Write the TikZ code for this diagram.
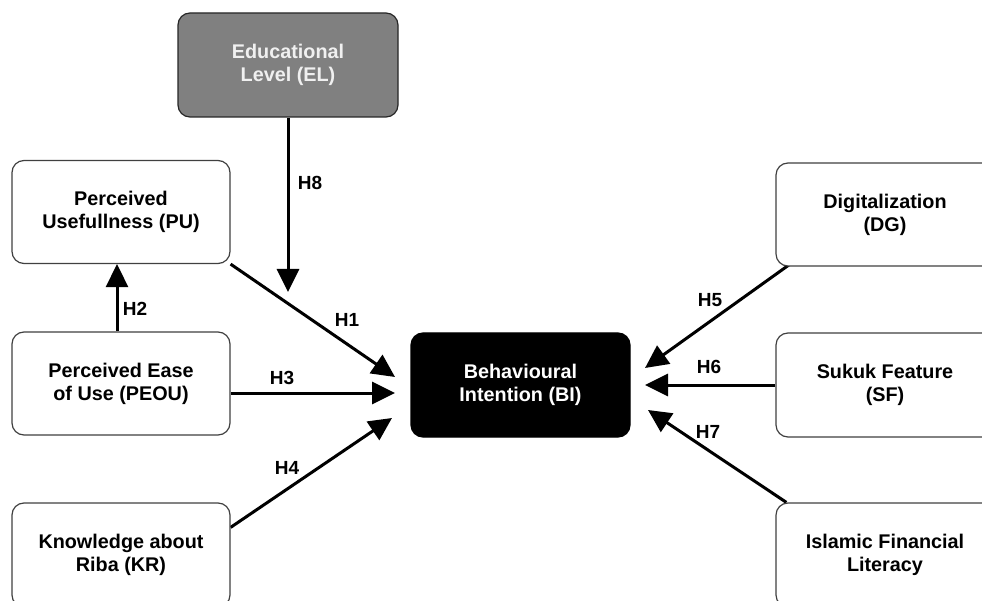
\documentclass[tikz,border=0pt]{standalone}
\usepackage{fontspec}
\setmainfont{Liberation Sans}
\usetikzlibrary{arrows.meta,calc,backgrounds}
\begin{document}
\begin{tikzpicture}[x=1pt,y=-1pt,
  box/.style={draw=black!75, line width=1.2pt, rounded corners=12pt, fill=white,
    minimum width=218pt, minimum height=103pt, align=center, inner sep=0pt,
    font=\fontsize{19.8}{23}\selectfont\bfseries},
  darkbox/.style={box, fill=black, draw=black, text=white},
  graybox/.style={box, fill=black!50, draw=black!85, text=white!94!black},
  conn/.style={line width=3pt, -{Triangle[length=23pt,width=22pt]}},
  lab/.style={font=\fontsize{19}{22}\selectfont\bfseries, inner sep=0pt}]
\useasboundingbox (0,0) rectangle (982,601);
\clip (0,0) rectangle (982,601);

% nodes
\node[graybox, minimum width=220pt, minimum height=104pt] (EL) at (288,65) {Educational\\Level (EL)};
\node[box] (PU) at (121,212) {Perceived\\Usefullness (PU)};
\node[box] (PEOU) at (121,383.5) {Perceived Ease\\of Use (PEOU)};
\node[box, minimum height=104pt] (KR) at (121,555) {Knowledge about\\Riba (KR)};
\node[darkbox, minimum width=219pt, minimum height=104pt] (BI) at (520.5,385) {Behavioural\\Intention (BI)};
\node[box] (DG) at (885,214.5) {Digitalization\\(DG)};
\node[box, minimum height=104pt] (SF) at (885,385) {Sukuk Feature\\(SF)};
\node[box, minimum height=104pt] (IFL) at (885,555) {Islamic Financial\\Literacy};

% arrow tips (free ends)
\coordinate (t1) at (395,377);
\coordinate (t3) at (395,393);
\coordinate (t4) at (392,418);
\coordinate (t5) at (645,368);
\coordinate (t6) at (645,385);
\coordinate (t7) at (648,410);
\coordinate (t8) at (288,292);

\begin{pgfonlayer}{background}
\draw[conn] (PU.south east) -- (t1);
\draw[conn] (PEOU.east |- t3) -- (t3);
\draw[conn] ($(KR.north east)+(0,25)$) -- (t4);
\draw[conn] ($(DG.south west)+(14,-2)$) -- (t5);
\draw[conn] (SF.west |- t6) -- (t6);
\draw[conn] ($(IFL.north west)+(11,0)$) -- (t7);
\draw[conn] (EL.south) -- (t8);
\draw[conn] ([xshift=-4pt]PEOU.north) -- ([xshift=-4pt]PU.south);
\end{pgfonlayer}

% labels
\node[lab] (lH1) at (347,320) {H1};
\node[lab] (lH2) at (135,309) {H2};
\node[lab] (lH3) at (282,378) {H3};
\node[lab] (lH4) at (287,468) {H4};
\node[lab] (lH5) at (710,300) {H5};
\node[lab] (lH6) at (709,367) {H6};
\node[lab] (lH7) at (708,432) {H7};
\node[lab] (lH8) at (310,183) {H8};
\end{tikzpicture}
\end{document}
